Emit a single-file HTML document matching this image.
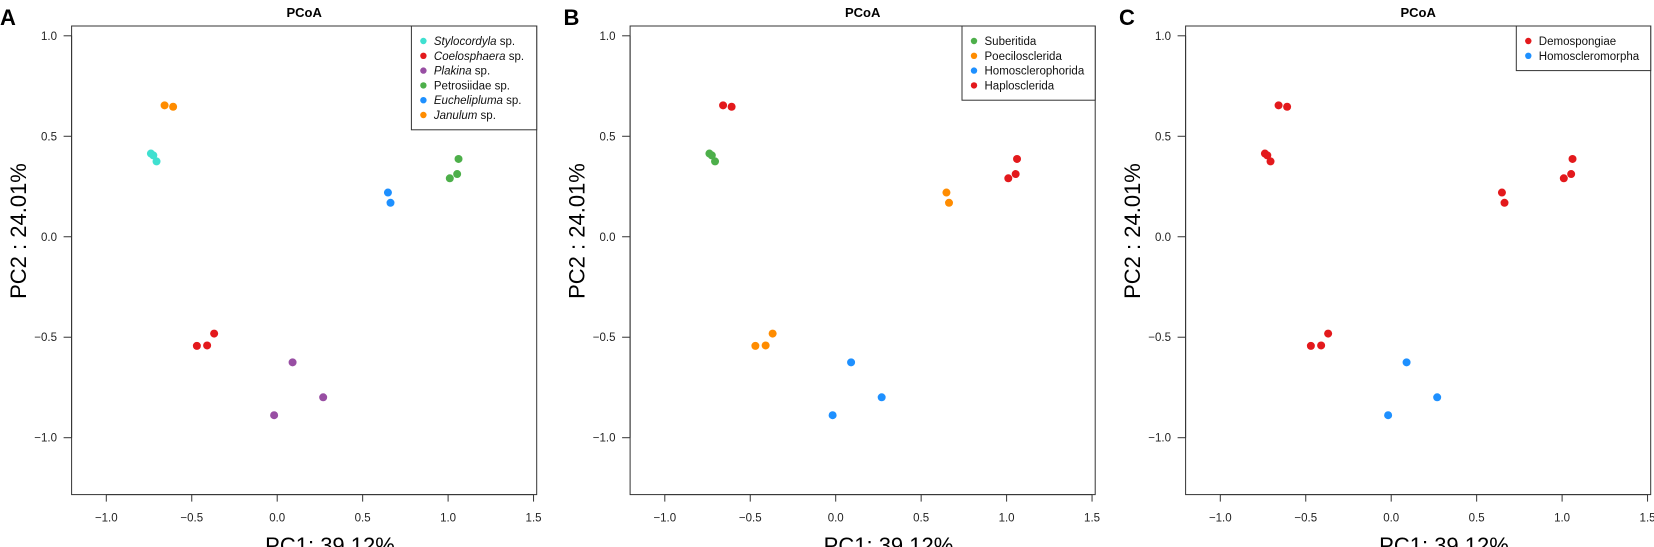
<!DOCTYPE html>
<html><head><meta charset="utf-8">
<style>
html,body{margin:0;padding:0;background:#fff;}
svg{display:block;font-family:"Liberation Sans",Arial,sans-serif;}
</style></head>
<body>
<svg id="fig" width="1654" height="547" viewBox="0 0 1654 547" xmlns="http://www.w3.org/2000/svg"></svg>
<script>
// ---- data ----
const pc1 = [-0.659,-0.609,-0.739,-0.725,-0.706,-0.470,-0.410,-0.369,0.090,0.269,-0.018,0.648,0.663,1.061,1.053,1.010];
const pc2 = [0.654,0.647,0.414,0.405,0.375,-0.543,-0.541,-0.482,-0.625,-0.799,-0.888,0.220,0.169,0.387,0.312,0.291];
const speciesIdx = [5,5,0,0,0,1,1,1,2,2,2,4,4,3,3,3];
const orderIdx   = [3,3,0,0,0,1,1,1,2,2,2,1,1,3,3,3];
const classIdx   = [0,0,0,0,0,0,0,0,1,1,1,0,0,0,0,0];
const speciesNames = [["Stylocordyla"," sp."],["Coelosphaera"," sp."],["Plakina"," sp."],["Petrosiidae sp.",""],["Euchelipluma"," sp."],["Janulum"," sp."]];
const speciesColors = ["#3FE0D0","#E3191C","#984EA3","#4DAF4A","#1E90FF","#FF8C00"];
const orderNames = ["Suberitida","Poecilosclerida","Homosclerophorida","Haplosclerida"];
const orderColors = ["#4DAF4A","#FF8C00","#1E90FF","#E3191C"];
const classNames = ["Demospongiae","Homoscleromorpha"];
const classColors = ["#E3191C","#1E90FF"];
const xTicks = [-1.0,-0.5,0.0,0.5,1.0,1.5];
const yTicks = [-1.0,-0.5,0.0,0.5,1.0];

const NS="http://www.w3.org/2000/svg";
const svg=document.getElementById('fig');
function mk(tag,attrs,parent){const e=document.createElementNS(NS,tag);for(const k in attrs)e.setAttribute(k,attrs[k]);(parent||svg).appendChild(e);return e;}
const fmt=v=>(v<0?"\u2212":"")+Math.abs(v).toFixed(1);

const panels=[
 {off:0,letter:"A",lx:0,groups:speciesIdx,names:speciesNames,colors:speciesColors,legLeft:411.4,key:"species"},
 {off:558.5,letter:"B",lx:563.5,groups:orderIdx,names:orderNames.map(n=>[n,""]),colors:orderColors,legLeft:403.5,key:"order"},
 {off:1114,letter:"C",lx:1119,groups:classIdx,names:classNames.map(n=>[n,""]),colors:classColors,legLeft:402.3,key:"class"}
];

panels.forEach(p=>{
  const g=mk('g',{transform:`translate(${p.off},0)`});
  
  
  const xs=v=>277.2+v*170.9, ys=v=>236.75-v*200.95;
  const L=71.6,R=536.7,T=26,B=494.6;
  const lt=mk('text',{x:p.lx-p.off,y:25,'font-size':22,'font-weight':'bold'},g);lt.textContent=p.letter;
  
  const ti=mk('text',{x:(L+R)/2,y:17,'font-size':13,'font-weight':'bold','text-anchor':'middle'},g);ti.textContent="PCoA";
  
  const box=mk('rect',{x:L,y:T,width:R-L,height:B-T,fill:'none',stroke:'#333','stroke-width':1},g);
  
  // x axis
  mk('line',{x1:xs(xTicks[0]),x2:xs(xTicks[xTicks.length-1]),y1:B,y2:B,stroke:'#333'},g);
  xTicks.forEach(t=>{
    mk('line',{x1:xs(t),x2:xs(t),y1:B,y2:B+7,stroke:'#333'},g);
    const tx=mk('text',{x:xs(t),y:521.5,'font-size':11.5,'text-anchor':'middle',fill:'#222'},g);tx.textContent=fmt(t);
    
  });
  mk('line',{x1:L,x2:L,y1:ys(yTicks[0]),y2:ys(yTicks[yTicks.length-1]),stroke:'#333'},g);
  yTicks.forEach(t=>{
    mk('line',{x1:L-8,x2:L,y1:ys(t),y2:ys(t),stroke:'#333'},g);
    const ty=mk('text',{x:57,y:ys(t)+4,'font-size':11.5,'text-anchor':'end',fill:'#222'},g);ty.textContent=fmt(t);
    
  });
  const xt=mk('text',{x:330,y:553,'font-size':22,'text-anchor':'middle'},g);xt.textContent="PC1: 39.12%";
  
  const yt=mk('text',{x:0,y:0,'font-size':22,'text-anchor':'middle',transform:'translate(26,231) rotate(-90)'},g);yt.textContent="PC2 : 24.01%";
  
  // points
  pc1.forEach((v,i)=>{
    const c=mk('circle',{cx:xs(v),cy:ys(pc2[i]),r:4,fill:p.colors[p.groups[i]]},g);
    
    
  });
  // legend
  const n=p.names.length, lb=T+15+n*14.8;
  const lg=mk('g',{},g);
  
  
  mk('rect',{x:p.legLeft,y:T,width:R-p.legLeft,height:lb-T,fill:'#fff',stroke:'#333'},lg);
  p.names.forEach((nm,k)=>{
    const cy=T+15+k*14.8;
    const e=mk('g',{},lg);
    
    
    mk('circle',{cx:p.legLeft+12,cy:cy,r:3.2,fill:p.colors[k]},e);
    const t=mk('text',{x:p.legLeft+22.5,y:cy+4,'font-size':11.5,fill:'#111'},e);
    if(p.key==="species" && nm[1]!==""){
      const a=mk('tspan',{'font-style':'italic'},t);a.textContent=nm[0];
      const b=mk('tspan',{},t);b.textContent=" "+nm[1];
    } else t.textContent=nm[0];
  });
});
</script>
</body></html>
